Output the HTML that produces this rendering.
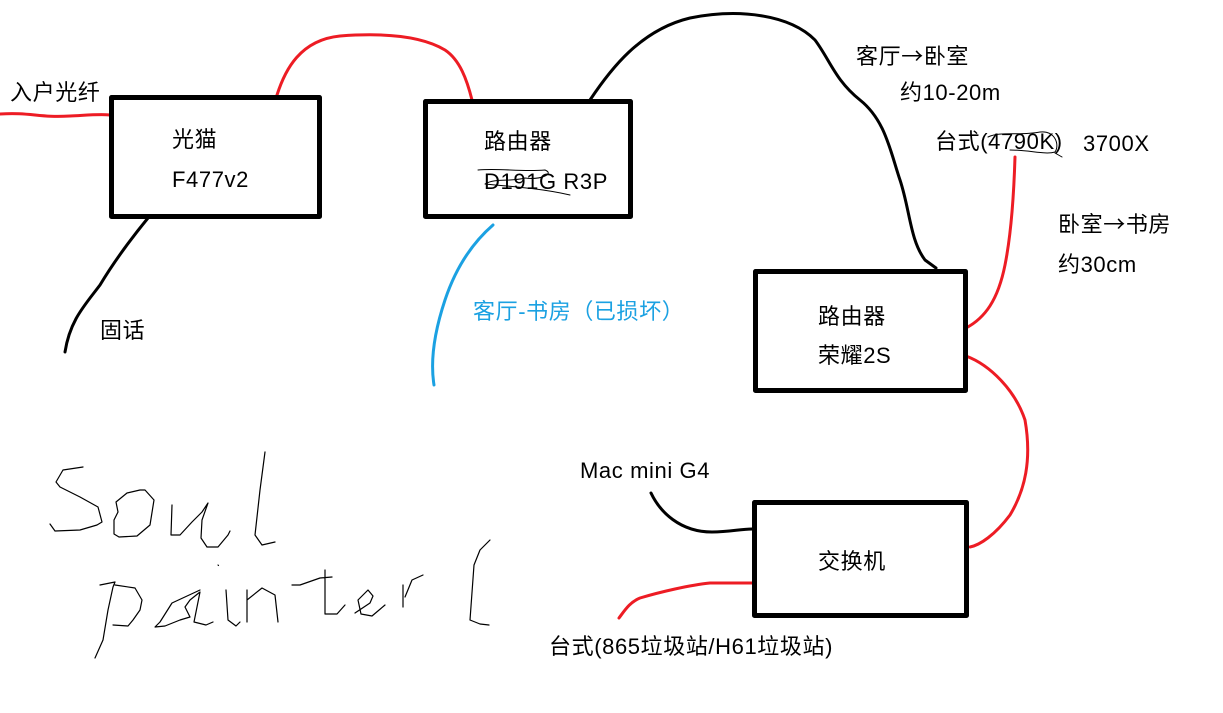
<!DOCTYPE html>
<html><head><meta charset="utf-8"><style>
html,body{margin:0;padding:0;background:#fff;width:1223px;height:713px;overflow:hidden}
svg{display:block}
text{font-family:"Liberation Sans","Noto Sans CJK SC",sans-serif;font-size:22px;fill:#000;letter-spacing:0.6px}
.ar{font-family:"Noto Sans CJK SC",sans-serif}
</style></head><body>
<svg width="1223" height="713" viewBox="0 0 1223 713" xmlns="http://www.w3.org/2000/svg">
<g fill="none" stroke-linecap="round" stroke-linejoin="round">
<path d="M0,114 C30,112 40,118 70,116 C90,115 100,114 110,115" stroke="#ed1c24" stroke-width="3"/>
<path d="M277,95 C285,70 300,40 340,36 C380,33 420,35 445,50 C460,60 467,80 472,100" stroke="#ed1c24" stroke-width="3"/>
<path d="M590,100 C610,70 640,30 690,18 C740,8 790,15 815,40 C830,60 835,80 860,100 C885,120 890,150 900,180 C910,210 910,240 925,260 L936,268" stroke="#000" stroke-width="3"/>
<path d="M148,218 C130,240 115,260 100,285 C85,305 70,320 65,352" stroke="#000" stroke-width="3"/>
<path d="M493,225 C470,245 455,270 445,300 C435,330 430,360 434,385" stroke="#1ba1e2" stroke-width="3"/>
<path d="M1015,157 C1014,190 1012,230 1005,265 C998,300 985,318 966,328" stroke="#ed1c24" stroke-width="3"/>
<path d="M966,356 C990,365 1015,390 1025,420 C1032,460 1025,490 1010,515 C995,535 980,545 970,547" stroke="#ed1c24" stroke-width="3"/>
<path d="M651,493 C660,512 680,532 712,532 C730,532 740,529 752,529" stroke="#000" stroke-width="3"/>
<path d="M752,583 L710,583 C690,585 660,592 640,598 C630,602 625,610 619,618" stroke="#ed1c24" stroke-width="3"/>
<rect x="111.5" y="97.5" width="208" height="119" stroke="#000" stroke-width="5"/>
<rect x="425.5" y="101.5" width="205" height="115" stroke="#000" stroke-width="5"/>
<rect x="755.5" y="271.5" width="210" height="119" stroke="#000" stroke-width="5"/>
<rect x="754.5" y="502.5" width="212" height="113" stroke="#000" stroke-width="5"/>
<g stroke="#000" stroke-width="1.2">
<path d="M83,467 L63,470 L56,482 L60,487 L80,497 L98,507 L102,522 L97,525 L80,530 L55,531 L50,524"/>
<path d="M140,490 L127,493 L116,502 L118,512 L114,520 L114,534 L119,537 L137,536 L150,525 L154,500 L145,490 Z"/>
<path d="M172,505 L171,535 L180,535 L192,522 L202,512 L208,503 L202,520 L201,538 L207,547 L218,547 L228,535 L230,531"/>
<path d="M265,452 L260,490 L255,535 L262,545 L275,542"/>
<path d="M100,585 L115,582 L113,587 L108,610 L103,640 L95,658 M115,585 L135,588 L142,600 L140,610 L133,620 L128,626 L113,625"/>
<path d="M200,590 L172,603 L160,622 L155,627 L165,626 L180,620 L190,617 L185,607 L190,600 L200,592 L194,622 L206,625 L213,622"/>
<path d="M218,565 L218.5,565.5"/>
<path d="M226,590 L228,620 L236,626 L240,622"/>
<path d="M247,590 L247,622 M247,600 L262,588 L275,595 L278,622"/>
<path d="M292,585 L300,585 L320,578 L332,577 M325,570 L325,614 L337,614 L345,605"/>
<path d="M355,613 L370,603 L373,596 L368,590 L358,600 L361,614 L372,616 L385,605"/>
<path d="M403,585 L403,607 M405,597 L412,580 L423,575"/>
<path d="M490,540 L480,550 L474,565 L470,620 L480,624 L489,625"/>
</g>
<g stroke="#000" stroke-width="1">
<path d="M478,170 C500,168 520,172 545,170 C555,174 540,180 525,178 C510,182 495,178 485,184 C505,186 540,188 570,195"/>
<path d="M988,137 C1000,131 1020,136 1040,132 C1055,130 1060,145 1055,152 C1045,155 1030,150 1010,150 M1055,153 L1062,157"/>
</g>
</g>
<text x="10" y="100">入户光纤</text>
<text x="172" y="147">光猫</text>
<text x="172" y="187">F477v2</text>
<text x="484" y="149">路由器</text>
<text x="484" y="189">D191G R3P</text>
<text x="100" y="338">固话</text>
<text x="473" y="319" style="fill:#1ba1e2">客厅-书房（已损坏）</text>
<text x="856" y="64">客厅<tspan class="ar">→</tspan>卧室</text>
<text x="900" y="100">约10-20m</text>
<text x="935" y="149">台式(4790K)</text>
<text x="1083" y="151">3700X</text>
<text x="1058" y="232">卧室<tspan class="ar">→</tspan>书房</text>
<text x="1058" y="272">约30cm</text>
<text x="818" y="324">路由器</text>
<text x="818" y="363">荣耀2S</text>
<text x="580" y="478">Mac mini G4</text>
<text x="818" y="569">交换机</text>
<text x="549" y="654">台式(865垃圾站/H61垃圾站)</text>
</svg>
</body></html>
